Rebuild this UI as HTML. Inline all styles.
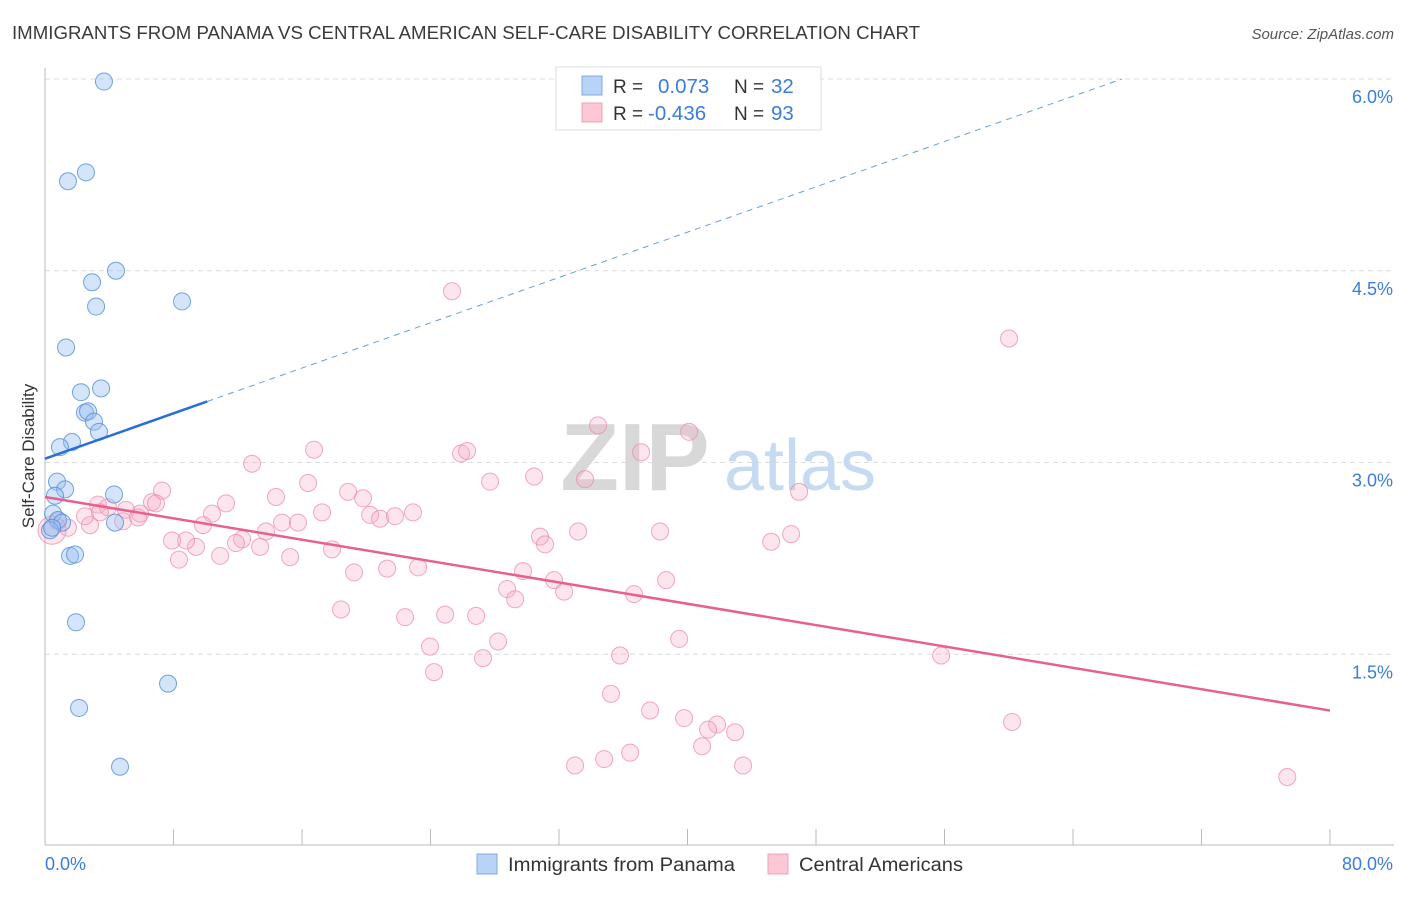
<!DOCTYPE html>
<html><head><meta charset="utf-8"><style>
body{margin:0;background:#fff;font-family:"Liberation Sans",sans-serif;}
svg text{font-family:"Liberation Sans",sans-serif;}
</style></head><body>
<svg id="chart" width="1406" height="892" viewBox="0 0 1406 892" xmlns="http://www.w3.org/2000/svg">
<text x="12" y="39" font-size="18" fill="#3a3a3a" textLength="908" lengthAdjust="spacingAndGlyphs">IMMIGRANTS FROM PANAMA VS CENTRAL AMERICAN SELF-CARE DISABILITY CORRELATION CHART</text>
<text x="1394" y="39" font-size="15" fill="#555" text-anchor="end" font-style="italic">Source: ZipAtlas.com</text>
<g id="grid"></g>
<g>
<text x="635" y="490" font-size="96" font-family="Liberation Serif" fill="#d8d8d8" text-anchor="middle" font-weight="bold">ZIP</text>
<text x="800" y="490" font-size="72" fill="#c6daf2" text-anchor="middle">atlas</text>
</g>
<g id="axes"></g>
<g id="pink"></g>
<g id="blue"></g>
<g id="trends"></g>
<text transform="translate(34,456) rotate(-90)" font-size="17" fill="#333" text-anchor="middle">Self-Care Disability</text>
<g>
<rect x="556" y="67" width="265" height="63" fill="#fff" stroke="#ddd"/>
<rect x="582" y="76" width="20" height="19" fill="#b8d3f5" stroke="#7fa8e0"/>
<rect x="582" y="103" width="20" height="19" fill="#fcc8d6" stroke="#f0a0b8"/>
<text x="613" y="93" font-size="19" fill="#333">R =</text>
<text x="658" y="93" font-size="20.5" fill="#3b7dd8">0.073</text>
<text x="734" y="93" font-size="19" fill="#333">N =</text>
<text x="771" y="93" font-size="20.5" fill="#3b7dd8">32</text>
<text x="613" y="120" font-size="19" fill="#333">R =</text>
<text x="648" y="120" font-size="20.5" fill="#3b7dd8">-0.436</text>
<text x="734" y="120" font-size="19" fill="#333">N =</text>
<text x="771" y="120" font-size="20.5" fill="#3b7dd8">93</text>
</g>
<g>
<rect x="477" y="854" width="20" height="20" fill="#b8d3f5" stroke="#7fa8e0"/>
<text x="508" y="871" font-size="19" fill="#333" textLength="227" lengthAdjust="spacingAndGlyphs">Immigrants from Panama</text>
<rect x="768" y="854" width="20" height="20" fill="#fcc8d6" stroke="#f0a0b8"/>
<text x="799" y="871" font-size="19" fill="#333" textLength="164" lengthAdjust="spacingAndGlyphs">Central Americans</text>
</g>
</svg>
<script>
const xTicks=[0,8,16,24,32,40,48,56,64,72,80];
const yTicks=[1.5,3.0,4.5,6.0];
const yTickLabels=["1.5%","3.0%","4.5%","6.0%"];
const blueX=[3.67,1.43,2.55,4.42,2.93,3.18,8.53,1.31,2.24,3.49,2.49,2.68,3.05,3.36,1.68,0.93,0.75,1.25,0.62,4.30,0.50,0.81,1.06,0.31,4.36,0.44,1.56,1.87,1.93,7.66,2.12,4.67];
const blueY=[5.98,5.20,5.27,4.50,4.41,4.22,4.26,3.90,3.55,3.58,3.39,3.40,3.32,3.24,3.16,3.12,2.85,2.79,2.74,2.75,2.60,2.55,2.53,2.47,2.53,2.49,2.27,2.28,1.75,1.27,1.08,0.62];
const pinkX=[25.34,60.02,34.43,16.75,25.90,26.28,40.10,37.11,12.89,27.71,30.45,33.62,46.95,7.29,14.38,16.38,18.87,19.80,3.30,3.92,5.04,5.92,6.66,6.91,11.27,10.40,17.25,20.24,20.86,21.79,22.91,14.76,15.75,13.76,9.84,2.80,1.43,0.81,2.49,4.86,5.79,3.42,12.27,11.89,13.39,9.40,8.78,7.91,8.34,10.90,15.26,17.87,19.24,21.30,23.23,30.82,31.13,33.19,38.29,45.21,46.45,29.76,31.69,32.32,38.67,36.67,28.77,29.27,18.43,22.42,24.91,26.84,23.97,28.21,27.27,24.22,39.48,35.80,55.79,35.24,37.67,39.79,41.84,41.28,42.96,40.91,36.43,34.81,33.00,43.46,60.21,77.34,0.44];
const pinkY=[4.34,3.97,3.29,3.10,3.07,3.09,3.24,3.08,2.99,2.85,2.89,2.87,2.77,2.78,2.73,2.84,2.77,2.72,2.67,2.65,2.63,2.60,2.69,2.68,2.68,2.60,2.61,2.59,2.56,2.58,2.61,2.53,2.53,2.46,2.51,2.51,2.49,2.54,2.58,2.54,2.57,2.61,2.40,2.37,2.34,2.34,2.39,2.39,2.24,2.27,2.26,2.32,2.14,2.17,2.18,2.42,2.36,2.46,2.46,2.38,2.44,2.15,2.08,1.99,2.08,1.97,2.01,1.93,1.85,1.79,1.81,1.80,1.56,1.60,1.47,1.36,1.62,1.49,1.49,1.19,1.06,1.00,0.95,0.91,0.89,0.78,0.73,0.68,0.63,0.63,0.97,0.54,2.47];
const blueTrend=[3.03,0.0443];   // intercept, slope
const pinkTrend=[2.73,-0.02088];
const X0=45,X1=1330,Y0=846,YTOP=79;
const xs=v=>X0+(v/80)*(X1-X0);
const ys=v=>Y0-(v/6)*(Y0-YTOP);
const NS="http://www.w3.org/2000/svg";
function mk(tag,attrs,parent){const e=document.createElementNS(NS,tag);for(const k in attrs)e.setAttribute(k,attrs[k]);parent.appendChild(e);return e;}
const grid=document.getElementById('grid'),axes=document.getElementById('axes');
yTicks.forEach((t,i)=>{
 const l=mk('line',{x1:X0,x2:1394,y1:ys(t),y2:ys(t),stroke:'#dcdcdc','stroke-dasharray':'5,4'},grid);
 
 
 const tx=mk('text',{x:1393,y:ys(t)+24,'font-size':18,fill:'#3b7dd8','text-anchor':'end'},axes);
 tx.textContent=yTickLabels[i];
 
 
});
const ax=mk('line',{x1:X0,x2:1394,y1:845,y2:845,stroke:'#bbb'},axes);


const ay=mk('line',{x1:X0,x2:X0,y1:68,y2:845,stroke:'#bbb'},axes);


xTicks.forEach(t=>{
 const l=mk('line',{x1:xs(t),x2:xs(t),y1:829,y2:845,stroke:'#bbb'},axes);
 
 
});
const xl0=mk('text',{x:45,y:870,'font-size':18,fill:'#3b7dd8'},axes);xl0.textContent='0.0%';


const xl1=mk('text',{x:1393,y:870,'font-size':18,fill:'#3b7dd8','text-anchor':'end'},axes);xl1.textContent='80.0%';


const pg=document.getElementById('pink');
pinkX.forEach((v,i)=>{
 const big=i===pinkX.length-1;
 const c=mk('circle',{cx:xs(v),cy:ys(pinkY[i]),r:big?14:8.5,fill:'rgba(248,170,195,0.3)',stroke:'rgba(236,140,170,0.75)','stroke-width':1},pg);
 
 
});
const bg=document.getElementById('blue');
blueX.forEach((v,i)=>{
 const c=mk('circle',{cx:xs(v),cy:ys(blueY[i]),r:8.5,fill:'rgba(150,190,240,0.4)',stroke:'rgba(80,140,220,0.8)','stroke-width':1},bg);
 
 
});
const tg=document.getElementById('trends');
const bf=x=>blueTrend[0]+blueTrend[1]*x, pf=x=>pinkTrend[0]+pinkTrend[1]*x;
const bs=mk('line',{x1:xs(0),y1:ys(bf(0)),x2:xs(10.1),y2:ys(bf(10.1)),stroke:'#2a6fd6','stroke-width':2.5},tg);


const xEnd=(6-blueTrend[0])/blueTrend[1];
const bd=mk('line',{x1:xs(10.1),y1:ys(bf(10.1)),x2:xs(xEnd),y2:ys(6),stroke:'#6a9ee0','stroke-width':1,'stroke-dasharray':'6,5'},tg);


const pl=mk('line',{x1:xs(0),y1:ys(pf(0)),x2:xs(80),y2:ys(pf(80)),stroke:'#e8608e','stroke-width':2.5},tg);


</script>
</body></html>
